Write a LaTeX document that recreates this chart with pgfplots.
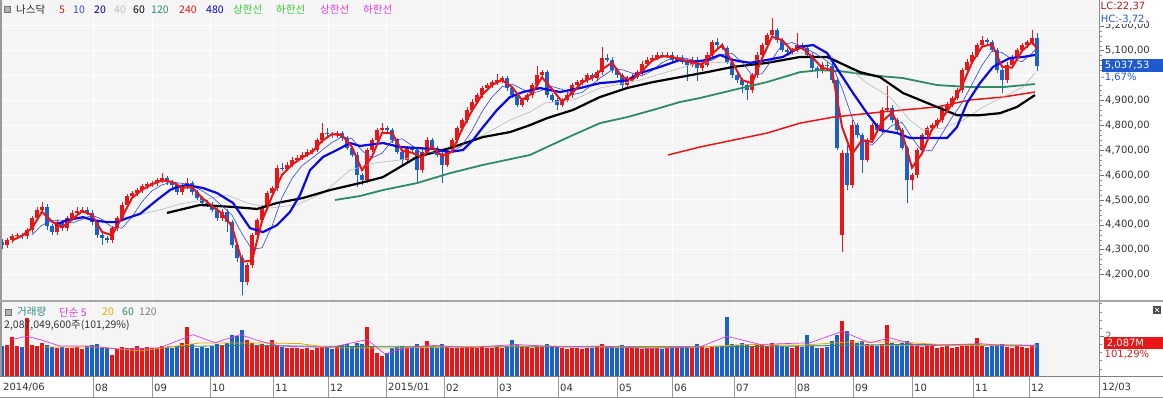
\documentclass[border=0pt]{standalone}
\usepackage{fontspec}
\setmainfont{Noto Sans CJK KR}
\newfontfamily\numfont{DejaVu Sans}
\usepackage{pgfplots}
\usepackage{pgfplotstable}
\pgfplotsset{compat=1.18}
\definecolor{cRed}{RGB}{232,22,22}
\definecolor{cBlue}{RGB}{28,96,204}
\definecolor{maBlueThin}{RGB}{50,70,220}
\definecolor{maBlue}{RGB}{10,10,230}
\definecolor{maGreen}{RGB}{46,139,100}
\definecolor{maGrey}{RGB}{185,185,185}
\definecolor{lgGreen}{RGB}{60,200,60}
\definecolor{lgMag}{RGB}{220,60,220}
\definecolor{lgTeal}{RGB}{40,140,120}
\definecolor{volOrange}{RGB}{235,170,0}
\definecolor{boxBlue}{RGB}{30,90,205}

\pgfplotstableread{
x o h l c v
2 4330 4345 4305 4318 1900
7 4318 4349 4308 4339 1950
12 4339 4365 4329 4355 2450
17 4355 4369 4345 4359 1900
22 4359 4369 4345 4355 1850
27 4355 4389 4345 4379 3600
32 4379 4437 4369 4427 1950
37 4427 4470 4417 4460 1900
42 4460 4490 4450 4472 2100
47 4472 4482 4380 4395 1950
52 4395 4405 4361 4371 1850
57 4371 4421 4361 4411 1800
62 4411 4421 4377 4387 1850
67 4387 4437 4377 4427 1750
72 4427 4458 4417 4448 1800
77 4448 4470 4438 4456 1850
82 4456 4470 4446 4460 1700
87 4460 4470 4438 4448 1900
92 4448 4458 4401 4411 1950
97 4411 4421 4349 4359 2000
102 4359 4369 4320 4347 1800
107 4347 4357 4329 4339 1750
112 4339 4397 4329 4387 1350
117 4387 4437 4377 4427 1700
122 4427 4490 4417 4480 1850
127 4480 4526 4470 4516 1800
132 4516 4538 4506 4528 1750
137 4528 4550 4518 4540 1900
142 4540 4566 4530 4556 1800
147 4556 4574 4546 4564 1850
152 4564 4578 4554 4568 1750
157 4568 4590 4558 4580 1800
162 4580 4610 4570 4588 1900
167 4588 4598 4562 4572 1850
172 4572 4582 4550 4560 1750
177 4560 4570 4522 4532 1900
182 4532 4566 4522 4556 2100
187 4556 4590 4546 4568 3050
192 4568 4578 4522 4532 2000
197 4532 4542 4498 4508 1800
202 4508 4518 4478 4488 1850
207 4488 4498 4470 4480 1750
212 4480 4490 4450 4460 1900
217 4460 4470 4417 4427 2000
222 4427 4462 4417 4452 1950
227 4452 4462 4370 4411 2100
232 4411 4421 4309 4319 2600
237 4319 4329 4250 4267 2500
242 4267 4277 4117 4170 2900
247 4170 4248 4160 4238 2300
252 4238 4369 4228 4359 2100
257 4359 4429 4349 4419 1950
262 4419 4478 4409 4468 2000
267 4468 4538 4458 4528 1900
272 4528 4558 4518 4548 2250
277 4548 4639 4538 4629 1950
282 4629 4649 4615 4625 1850
287 4625 4651 4615 4641 1800
292 4641 4671 4631 4661 1750
297 4661 4679 4651 4669 1800
302 4669 4691 4659 4681 1700
307 4681 4703 4671 4693 1750
312 4693 4711 4683 4701 1650
317 4701 4751 4691 4741 1800
322 4741 4809 4731 4769 1850
327 4769 4790 4755 4765 1750
332 4765 4775 4751 4761 1700
337 4761 4779 4751 4769 1850
342 4769 4779 4739 4749 1950
347 4749 4759 4699 4709 2000
352 4709 4719 4671 4681 1900
357 4681 4691 4551 4600 2100
362 4600 4610 4560 4580 2000
367 4580 4711 4570 4701 3100
372 4701 4751 4691 4741 1900
377 4741 4791 4731 4781 1450
382 4781 4809 4771 4789 1300
387 4789 4799 4771 4781 1500
392 4781 4791 4731 4741 1800
397 4741 4751 4683 4693 1850
402 4693 4703 4640 4661 1900
407 4661 4719 4651 4709 1850
412 4709 4719 4691 4701 1800
417 4701 4711 4565 4620 2000
422 4620 4703 4610 4693 1900
427 4693 4755 4683 4741 2200
432 4741 4751 4699 4709 1850
437 4709 4719 4671 4681 1800
442 4681 4691 4570 4641 2000
447 4641 4711 4631 4701 1850
452 4701 4751 4691 4741 1800
457 4741 4799 4731 4789 1750
462 4789 4831 4779 4821 1800
467 4821 4872 4811 4862 1750
472 4862 4904 4852 4894 1850
477 4894 4932 4884 4922 1800
482 4922 4960 4912 4950 1900
487 4950 4972 4940 4962 1750
492 4962 4984 4952 4974 1800
497 4974 5008 4964 4982 1850
502 4982 5000 4972 4990 1750
507 4990 5000 4940 4950 1900
512 4950 4960 4912 4922 2300
517 4922 4932 4872 4882 1950
522 4882 4912 4872 4902 1900
527 4902 4932 4892 4922 1850
532 4922 4972 4912 4962 1800
537 4962 5040 4952 5002 1900
542 5002 5024 4992 5014 1850
547 5014 5024 4912 4922 2000
552 4922 4932 4892 4902 1900
557 4902 4912 4860 4882 1850
562 4882 4912 4872 4902 1800
567 4902 4932 4892 4922 1700
572 4922 4972 4912 4962 1750
577 4962 4984 4952 4974 1800
582 4974 4992 4964 4982 1700
587 4982 5012 4972 5002 1750
592 5002 5012 4980 4990 1800
597 4990 5024 4980 5014 1850
602 5014 5115 5004 5071 2000
607 5071 5085 5053 5063 1900
612 5063 5073 5012 5022 1850
617 5022 5032 4992 5002 1800
622 5002 5012 4940 4962 1950
627 4962 5000 4952 4990 1800
632 4990 5005 4980 4995 1750
637 4995 5024 4985 5014 1800
642 5014 5057 5004 5047 1700
647 5047 5073 5037 5063 1750
652 5063 5081 5053 5071 1800
657 5071 5093 5061 5083 1750
662 5083 5093 5069 5079 1700
667 5079 5093 5069 5083 1800
672 5083 5093 5053 5063 1750
677 5063 5081 5053 5071 1800
682 5071 5081 5045 5055 1850
687 5055 5065 4980 5043 1900
692 5043 5073 5033 5063 1750
697 5063 5073 4980 5030 2000
702 5030 5053 5020 5043 1850
707 5043 5093 5033 5083 1800
712 5083 5145 5073 5135 1900
717 5135 5150 5113 5123 1850
722 5123 5133 5101 5111 1900
727 5111 5121 5045 5055 3700
732 5055 5065 4992 5002 2000
737 5002 5012 4972 4982 1950
742 4982 4992 4930 4962 2100
747 4962 4972 4900 4942 2000
752 4942 5012 4932 5002 1900
757 5002 5093 4992 5083 2000
762 5083 5133 5073 5123 1950
767 5123 5173 5113 5163 1900
772 5163 5231 5153 5183 2100
777 5183 5193 5133 5143 1950
782 5143 5153 5093 5103 1900
787 5103 5113 5085 5095 1850
792 5095 5113 5085 5103 1800
797 5103 5171 5093 5123 1900
802 5123 5133 5101 5111 1850
807 5111 5121 5073 5083 2600
812 5083 5093 5020 5030 1900
817 5030 5040 4990 5022 1800
822 5022 5053 5012 5043 1750
827 5043 5053 5030 5040 1850
832 5040 5050 4972 4982 2200
837 4982 4992 4700 4710 2600
842 4360 4700 4292 4690 3450
847 4690 4720 4540 4560 2800
852 4560 4820 4550 4801 2300
857 4801 4811 4751 4761 2100
862 4761 4771 4610 4661 2200
867 4661 4751 4651 4741 2000
872 4741 4811 4731 4801 1950
877 4801 4811 4771 4781 1900
882 4781 4872 4771 4862 2000
887 4862 4960 4852 4870 3200
892 4870 4880 4811 4821 2100
897 4821 4831 4771 4781 2000
902 4781 4791 4699 4709 2100
907 4709 4719 4487 4580 2200
912 4580 4610 4540 4600 2000
917 4600 4711 4590 4701 1900
922 4701 4771 4691 4761 1850
927 4761 4799 4751 4789 1950
932 4789 4811 4779 4801 1900
937 4801 4831 4791 4821 1800
942 4821 4872 4811 4862 1850
947 4862 4892 4852 4882 1900
952 4882 4920 4872 4910 1800
957 4910 4952 4900 4942 1850
962 4942 5032 4932 5022 1900
967 5022 5065 5012 5055 1950
972 5055 5093 5045 5083 2000
977 5083 5133 5073 5123 2400
982 5123 5160 5113 5143 1900
987 5143 5153 5125 5135 1850
992 5135 5145 5093 5103 1900
997 5103 5113 5012 5022 1950
1002 5022 5032 4930 4982 2000
1007 4982 5053 4972 5043 1850
1012 5043 5081 5033 5071 1800
1017 5071 5113 5061 5103 1900
1022 5103 5133 5093 5123 1850
1027 5123 5145 5113 5135 1800
1032 5135 5183 5125 5151 1950
1037 5151 5170 5020 5037 2087
}\candles

\pgfplotsset{
  chartpanel/.style={
    scale only axis, xmin=0, xmax=1099,
    axis background/.style={fill=black!4},
    axis line style={draw=none},
    xtick={93,152,210,273,328,386,444,497,558,617,672,734,795,853,912,973,1029},
    xticklabels={}, xtick style={draw=none},
    xmajorgrids, grid style={white, line width=1pt},
    ytick pos=right, tick align=outside, major tick length=5pt, minor tick length=3pt,
    ytick style={draw=black!55, line width=0.6pt}, minor y tick style={draw=black!45, line width=0.5pt},
    yticklabel style={font=\numfont\fontsize{10}{12}\selectfont, anchor=west, inner sep=1pt},
  },
  candlebar/.style={draw=none, mark=none, error bars/.cd, y dir=plus, y explicit, error mark=none,
    error bar style={draw=#1}},
}

\begin{document}
\begin{tikzpicture}[x=1pt,y=1pt]
\fill[white] (0,0) rectangle (1163,398);

% ---------------- main price panel
\begin{axis}[chartpanel,
  at={(0pt,98pt)}, anchor=south west, width=1099pt, height=300pt,
  ymin=4098, ymax=5304,
  ymajorgrids,
  ytick={4200,4300,4400,4500,4600,4700,4800,4900,5000,5100,5200},
  yticklabels={{4,200,00},{4,300,00},{4,400,00},{4,500,00},{4,600,00},{4,700,00},{4,800,00},{4,900,00},{5,000,00},{5,100,00},{5,200,00}},
  minor y tick num=4,
  yticklabel style={text=black!80},
]
% wicks
\addplot[candlebar={cRed, line width=0.9pt}]
  table[x=x, y=l, y error expr={(\thisrow{c}>=\thisrow{o})*(\thisrow{h}-\thisrow{l})}] {\candles};
\addplot[candlebar={cBlue, line width=0.9pt}]
  table[x=x, y=l, y error expr={(\thisrow{c}<\thisrow{o})*(\thisrow{h}-\thisrow{l})}] {\candles};
% bodies
\addplot[candlebar={cRed, line width=3.4pt}]
  table[x=x, y=o, y error expr={(\thisrow{c}>=\thisrow{o})*(\thisrow{c}-\thisrow{o})}] {\candles};
\addplot[candlebar={cBlue, line width=3.4pt}]
  table[x=x, y=c, y error expr={(\thisrow{c}<\thisrow{o})*(\thisrow{o}-\thisrow{c})}] {\candles};

% MA 240
\addplot[cRed, line width=1.5pt] coordinates {(668,4681)(700,4713)(767,4769)(800,4809)(833,4833)(870,4849)(903,4862)(937,4874)(970,4902)(1003,4914)(1035,4934)};
% MA 120
\addplot[maGreen, line width=1.8pt] coordinates {(335,4500)(360,4516)(383,4540)(417,4568)(450,4608)(483,4641)(530,4681)(547,4713)(573,4761)(600,4809)(627,4833)(653,4862)(680,4894)(700,4910)(733,4942)(767,4974)(800,5014)(820,5022)(840,5018)(870,5002)(903,4990)(937,4962)(970,4954)(1003,4954)(1035,4966)};
% MA 40
\addplot[maGrey, line width=0.6pt] coordinates {(115,4411)(133,4435)(160,4460)(180,4484)(203,4500)(227,4520)(247,4488)(270,4468)(297,4480)(323,4528)(350,4620)(375,4649)(400,4661)(450,4701)(483,4761)(510,4821)(530,4854)(545,4890)(573,4902)(600,4950)(640,4982)(680,5030)(700,5055)(733,5051)(767,5063)(800,5091)(827,5091)(847,5035)(867,4970)(890,4914)(910,4821)(923,4781)(943,4789)(963,4821)(983,4874)(1003,4914)(1023,4954)(1035,5010)};
% MA 60
\addplot[black, line width=2.2pt] coordinates {(167,4448)(200,4480)(233,4472)(257,4464)(277,4488)(303,4508)(330,4540)(360,4568)(383,4592)(417,4673)(450,4709)(483,4753)(510,4773)(530,4801)(547,4829)(573,4862)(600,4914)(627,4950)(653,4974)(680,4994)(707,5014)(733,5035)(767,5051)(800,5075)(827,5075)(840,5051)(860,5014)(880,4994)(903,4930)(937,4874)(957,4841)(980,4841)(1000,4849)(1017,4874)(1035,4922)};
% MA 10
\addplot[maBlueThin, line width=0.6pt] coordinates {(32,4360)(42,4399)(52,4418)(62,4419)(72,4408)(82,4422)(92,4439)(102,4422)(112,4390)(122,4387)(132,4432)(142,4493)(152,4537)(162,4561)(172,4572)(182,4567)(192,4558)(202,4537)(212,4512)(222,4477)(232,4439)(242,4364)(252,4301)(262,4308)(272,4395)(282,4510)(292,4586)(302,4638)(312,4668)(322,4700)(332,4731)(342,4754)(352,4746)(362,4698)(372,4669)(382,4688)(392,4738)(402,4746)(412,4719)(422,4686)(432,4692)(442,4687)(452,4695)(462,4718)(472,4779)(482,4855)(492,4914)(502,4955)(512,4966)(522,4946)(532,4928)(542,4941)(552,4956)(562,4945)(572,4923)(582,4932)(592,4964)(602,4996)(612,5023)(622,5024)(632,5010)(642,4999)(652,5020)(662,5052)(672,5071)(682,5072)(692,5064)(702,5054)(712,5062)(722,5085)(732,5089)(742,5054)(752,5002)(762,5007)(772,5065)(782,5123)(792,5133)(802,5118)(812,5096)(822,5073)(832,5043)(842,4949)(852,4833)(862,4740)(872,4720)(882,4763)(892,4800)(902,4812)(912,4750)(922,4696)(932,4700)(942,4766)(952,4832)(962,4890)(972,4965)(982,5042)(992,5099)(1002,5093)(1012,5065)(1022,5056)(1032,5089)(1037,5114)};
% MA 20
\addplot[maBlue, line width=2.2pt] coordinates {(55,4399)(67,4419)(83,4431)(93,4419)(107,4411)(117,4411)(127,4427)(140,4444)(157,4500)(170,4540)(177,4552)(187,4560)(203,4548)(217,4528)(233,4488)(250,4387)(263,4371)(277,4399)(290,4452)(300,4520)(310,4620)(323,4673)(337,4701)(350,4729)(360,4717)(367,4721)(383,4729)(400,4713)(417,4709)(433,4705)(450,4693)(463,4701)(473,4741)(483,4793)(497,4862)(510,4914)(523,4934)(540,4950)(560,4934)(580,4950)(600,4970)(613,4974)(627,4982)(640,5010)(660,5035)(680,5063)(693,5055)(707,5063)(720,5083)(733,5063)(750,5051)(767,5063)(783,5075)(800,5115)(813,5123)(827,5091)(840,5010)(853,4930)(867,4849)(880,4781)(897,4769)(910,4749)(930,4749)(947,4749)(957,4793)(967,4890)(980,4970)(993,5035)(1010,5071)(1023,5075)(1035,5083)};
% MA 5
\addplot[cRed, line width=2pt] coordinates {(12,4337)(22,4356)(32,4387)(42,4453)(52,4413)(62,4390)(72,4421)(82,4455)(92,4440)(102,4372)(112,4358)(122,4431)(132,4508)(142,4541)(152,4563)(162,4579)(172,4573)(182,4549)(192,4552)(202,4509)(212,4476)(222,4446)(232,4394)(242,4252)(252,4256)(262,4415)(272,4515)(282,4601)(292,4642)(302,4670)(312,4692)(322,4737)(332,4765)(342,4760)(352,4713)(362,4620)(372,4674)(382,4770)(392,4770)(402,4698)(412,4690)(422,4671)(432,4714)(442,4677)(452,4694)(462,4784)(472,4859)(482,4922)(492,4962)(502,4982)(512,4954)(522,4902)(532,4929)(542,4993)(552,4946)(562,4895)(572,4929)(582,4973)(592,4991)(602,5025)(612,5052)(622,4995)(632,4982)(642,5019)(652,5060)(662,5078)(672,5075)(682,5063)(692,5054)(702,5045)(712,5087)(722,5123)(732,5056)(742,4982)(752,4969)(762,5069)(772,5156)(782,5143)(792,5100)(802,5112)(812,5075)(822,5032)(832,5022)(842,4794)(852,4684)(862,4741)(872,4734)(882,4815)(892,4851)(902,4770)(912,4630)(922,4687)(932,4784)(942,4828)(952,4885)(962,4958)(972,5053)(982,5116)(992,5127)(1002,5036)(1012,5032)(1022,5099)(1032,5136)(1037,5108)};
\end{axis}

% ---------------- volume panel
\begin{axis}[chartpanel,
  at={(0pt,21pt)}, anchor=south west, width=1099pt, height=77pt,
  ymin=0, ymax=4728,
  ytick={2500}, yticklabels={{2,500M}},
  minor ytick={500,1000,1500,2000,3000,3500,4000,4500},
  yticklabel style={text=black!60},
]
\addplot[candlebar={cRed, line width=4.6pt}]
  table[x=x, y expr=0, y error expr={(\thisrow{c}>=\thisrow{o})*\thisrow{v}}] {\candles};
\addplot[candlebar={cBlue, line width=4.6pt}]
  table[x=x, y expr=0, y error expr={(\thisrow{c}<\thisrow{o})*\thisrow{v}}] {\candles};
\addplot[maGrey, line width=0.6pt] coordinates {(335,1900)(500,1880)(700,1870)(900,1950)(1037,1950)};
\addplot[maGreen, line width=0.8pt] coordinates {(167,1850)(250,1950)(300,1900)(400,1850)(500,1850)(600,1850)(700,1850)(800,1900)(900,2000)(1037,1950)};
\addplot[volOrange, line width=0.8pt] coordinates {(43,1842)(100,1842)(140,1600)(200,2090)(270,2090)(300,2050)(333,1780)(400,1780)(450,1850)(500,1900)(550,1900)(600,1850)(650,1800)(700,1850)(750,2000)(800,1950)(850,2150)(900,2150)(950,1950)(1000,1950)(1037,1900)};
\addplot[lgMag, line width=0.7pt] coordinates {(12,2300)(27,2500)(40,2300)(60,1900)(90,1900)(120,1700)(160,1800)(193,2600)(215,2100)(240,2600)(260,2200)(280,1900)(330,1800)(367,2300)(385,1400)(400,1700)(430,1950)(470,1800)(515,2000)(560,1850)(600,1900)(650,1750)(700,1850)(727,2500)(760,2000)(810,2100)(842,2800)(870,2100)(890,2400)(920,1900)(980,2050)(1010,1900)(1037,1950)};
\end{axis}

% ---------------- frames and separators
\draw[black!45, line width=0.8pt] (1099,0) -- (1099,398);
\draw[black!40, line width=1.6pt] (0.8,21) -- (0.8,398);
\draw[black!35, line width=1.6pt] (0,97) -- (1163,97);
\draw[black!50, line width=1pt] (0,21) -- (1163,21);
\draw[black!45, line width=0.8pt] (0,0.5) -- (1163,0.5);
\foreach \xx in {93,152,210,273,328,386,444,497,558,617,672,734,795,853,912,973,1029}
  \draw[black!40, line width=0.8pt] (\xx,1) -- (\xx,21);

% x labels
\begin{scope}[every node/.style={anchor=west, inner sep=0pt, font=\numfont\fontsize{10}{12}\selectfont, text=black!80}]
\node at (3,10.5) {2014/06};
\node at (95,10.5) {08};
\node at (154,10.5) {09};
\node at (212,10.5) {10};
\node at (275,10.5) {11};
\node at (330,10.5) {12};
\node at (388,10.5) {2015/01};
\node at (446,10.5) {02};
\node at (499,10.5) {03};
\node at (560,10.5) {04};
\node at (619,10.5) {05};
\node at (674,10.5) {06};
\node at (736,10.5) {07};
\node at (797,10.5) {08};
\node at (855,10.5) {09};
\node at (914,10.5) {10};
\node at (975,10.5) {11};
\node at (1031,10.5) {12};
\node at (1102,10.5) {12/03};
\end{scope}

% right-side price annotations
\node[anchor=west, inner sep=0.5pt, font=\numfont\fontsize{10}{11}\selectfont, text=cRed!85!black] at (1100,391.5) {LC:22,37};
\node[anchor=west, inner sep=1pt, fill=white, font=\numfont\fontsize{10}{11}\selectfont, text=boxBlue] at (1099.6,379) {HC:-3,72};
\node[anchor=west, inner sep=0pt, minimum width=61pt, minimum height=13pt, fill=boxBlue, text=white, font=\numfont\fontsize{10}{11}\selectfont, align=left, text width=59pt] at (1102,332.5) {\,5,037,53};
\node[anchor=west, inner sep=0.5pt, fill=white, minimum width=62pt, minimum height=10pt, font=\numfont\fontsize{10}{11}\selectfont, text=boxBlue, align=left, text width=60pt] at (1100,321) {-1,67\%};

% right-side volume annotations
\node[anchor=west, inner sep=0pt, minimum width=59pt, minimum height=12pt, fill=cRed, text=white, font=\numfont\fontsize{10}{11}\selectfont, align=left, text width=57pt] at (1104,55) {\,2,087M};
\node[anchor=west, inner sep=0.5pt, fill=white, font=\numfont\fontsize{10}{11}\selectfont, text=cRed] at (1104,43.5) {101,29\%};
\fill[black!70] (1153,84) rectangle (1161,92);
\draw[white, line width=0.7pt] (1155,86) -- (1159,90) (1155,90) -- (1159,86);

% top legend
\draw[fill=black!30, draw=black!55, line width=0.4pt] (4,385.5) rectangle (10,391.5);
\begin{scope}[every node/.style={anchor=west, inner sep=0pt, font=\fontsize{10.5}{12}\selectfont}]
\node[text=black!85] at (16,388.5) {나스닥};
\node[text=cRed] at (59,388.5) {5};
\node[text=maBlueThin] at (73,388.5) {10};
\node[text=blue!60!black] at (94,388.5) {20};
\node[text=black!25] at (114,388.5) {40};
\node[text=black] at (133,388.5) {60};
\node[text=lgTeal] at (151,388.5) {120};
\node[text=cRed] at (179,388.5) {240};
\node[text=blue!80!black] at (206,388.5) {480};
\node[text=lgGreen] at (233,388.5) {상한선};
\node[text=lgGreen] at (276,388.5) {하한선};
\node[text=lgMag] at (320,388.5) {상한선};
\node[text=lgMag] at (363,388.5) {하한선};
\end{scope}

% volume legend
\draw[fill=black!30, draw=black!55, line width=0.4pt] (5,83) rectangle (11,89);
\begin{scope}[every node/.style={anchor=west, inner sep=0pt, font=\fontsize{10.5}{12}\selectfont}]
\node[text=lgTeal] at (17,86) {거래량};
\node[text=lgMag] at (59,86) {단순 5};
\node[text=volOrange] at (102,86) {20};
\node[text=maGreen] at (122,86) {60};
\node[text=black!50] at (139,86) {120};
\node[text=black!80] at (4,73) {2,087,049,600주(101,29\%)};
\end{scope}

\pgfresetboundingbox
\path[use as bounding box] (0,0) rectangle (1163,398);
\end{tikzpicture}
\end{document}
